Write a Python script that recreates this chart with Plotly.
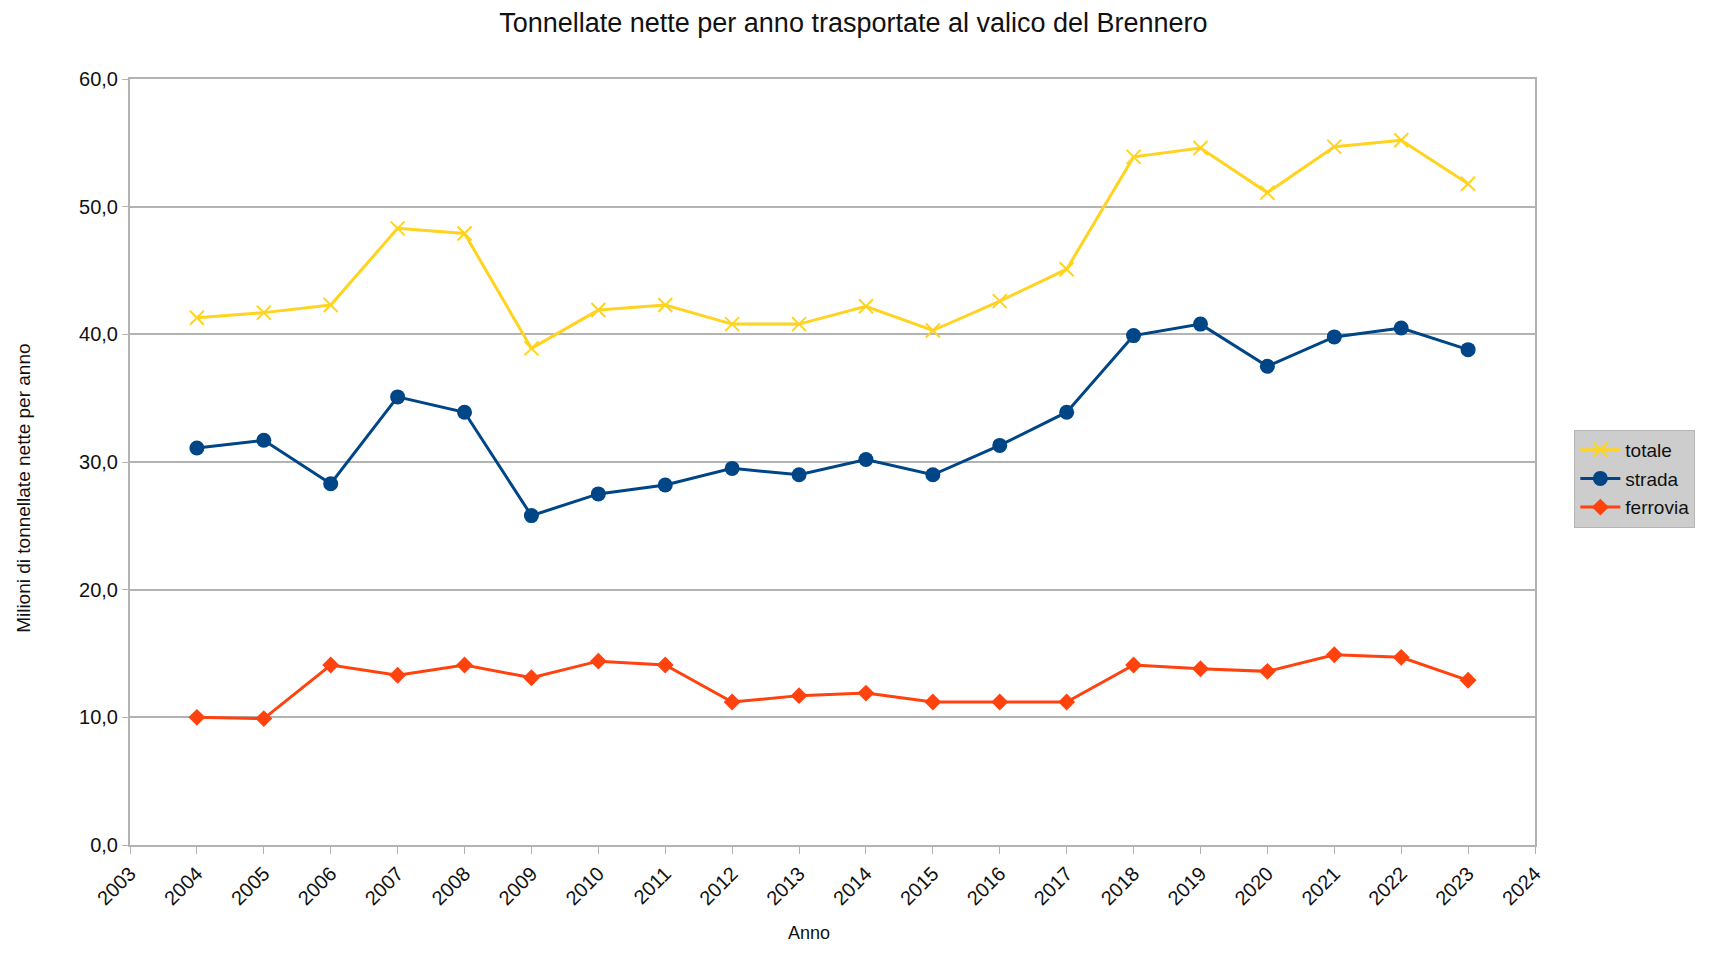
import plotly.graph_objects as go

anni = list(range(2004, 2024))
totale = [41.3, 41.7, 42.3, 48.3, 47.9, 38.9, 41.9, 42.3, 40.8, 40.8,
          42.2, 40.3, 42.6, 45.1, 53.9, 54.6, 51.1, 54.7, 55.2, 51.8]
strada = [31.1, 31.7, 28.3, 35.1, 33.9, 25.8, 27.5, 28.2, 29.5, 29.0,
          30.2, 29.0, 31.3, 33.9, 39.9, 40.8, 37.5, 39.8, 40.5, 38.8]
ferrovia = [10.0, 9.9, 14.1, 13.3, 14.1, 13.1, 14.4, 14.1, 11.2, 11.7,
            11.9, 11.2, 11.2, 11.2, 14.1, 13.8, 13.6, 14.9, 14.7, 12.9]

fig = go.Figure()

# totale
fig.add_trace(go.Scatter(
    x=anni, y=totale, name='totale', mode='lines+markers', legendgroup='a',
    line=dict(color='#ffd320', width=3),
    marker=dict(symbol='x-thin', size=14, line=dict(color='#ffd320', width=2))
))

# strada
fig.add_trace(go.Scatter(
    x=anni, y=strada, name='strada', mode='lines+markers', legendgroup='b',
    line=dict(color='#004586', width=3),
    marker=dict(symbol='circle', size=15, color='#004586')
))

# ferrovia
fig.add_trace(go.Scatter(
    x=anni, y=ferrovia, name='ferrovia', mode='lines+markers', legendgroup='c',
    line=dict(color='#ff420e', width=3),
    marker=dict(symbol='diamond', size=13, color='#ff420e')
))

fig.update_layout(
    width=1701, height=939,
    margin=dict(l=122, r=174, t=71, b=102),
    paper_bgcolor='white', plot_bgcolor='white',
    separators=',.',
    font=dict(family='Liberation Sans, Arial, sans-serif', color='#111111'),
    title=dict(text='Tonnellate nette per anno trasportate al valico del Brennero',
               x=0.497, xanchor='center', y=0.985, yanchor='middle',
               font=dict(size=27)),
    xaxis=dict(
        range=[2003, 2024], tickmode='linear', tick0=2003, dtick=1,
        tickangle=-45, ticks='outside', ticklen=7, tickcolor='#b3b3b3',
        showgrid=False, showline=True, linecolor='#b3b3b3', linewidth=2,
        mirror=True, zeroline=False, tickfont=dict(size=20)
    ),
    yaxis=dict(
        range=[0, 60], dtick=10, tickformat='.1f',
        ticks='outside', ticklen=6, tickcolor='#b3b3b3',
        showgrid=True, gridcolor='#b3b3b3', gridwidth=2,
        showline=True, linecolor='#b3b3b3', linewidth=2, mirror=True,
        zeroline=False, tickfont=dict(size=20)
    ),
    legend=dict(
        x=1.028, y=0.542, xanchor='left', yanchor='top',
        bgcolor='#cdcdcd', bordercolor='#b5b5b5', borderwidth=1,
        font=dict(size=19), tracegroupgap=1, itemwidth=40
    ),
    annotations=[
        dict(text='Anno', xref='paper', yref='paper', x=0.483, y=0,
             xanchor='center', yanchor='middle', yshift=-88,
             showarrow=False, font=dict(size=18)),
        dict(text='Milioni di tonnellate nette per anno', textangle=-90,
             xref='paper', yref='paper', x=-0.0754, y=0.465,
             xanchor='center', yanchor='middle',
             showarrow=False, font=dict(size=19)),
    ],
)

fig.write_html("out.html")
